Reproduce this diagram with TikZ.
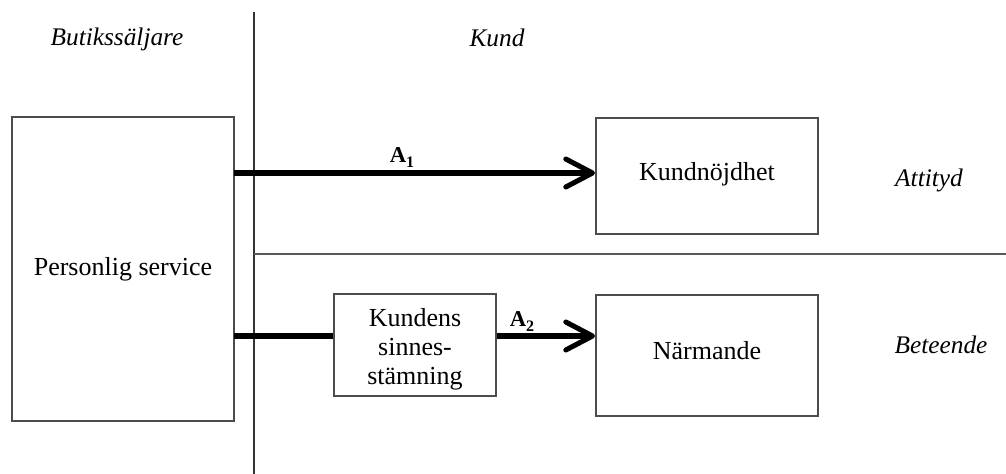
\documentclass[tikz,border=0pt]{standalone}
\usepackage{fontspec}
\setmainfont{Liberation Serif}
\usetikzlibrary{arrows.meta}
\tikzset{
  box/.style={draw=black!70, line width=1.5pt, fill=white, inner sep=0pt, align=center,
    font=\fontsize{19.5}{21.5}\selectfont},
  head/.style={font=\fontsize{19}{21}\selectfont\itshape},
  rule/.style={draw=black!80, line width=1.5pt},
  flow/.style={line width=3.8pt, -{Straight Barb[length=20pt,width=21pt,round]}},
  plain/.style={line width=3.8pt},
  alab/.style={font=\fontsize{17}{19}\selectfont\bfseries}
}
\newcommand{\sublab}[2]{#1\raisebox{-0.22em}{\fontsize{12}{12}\selectfont #2}}
\begin{document}
\begin{tikzpicture}[x=0.75pt,y=-0.75pt]
\useasboundingbox (0,0) rectangle (1006,474);
% separators
\coordinate (vtop) at (254,12);
\coordinate (vbot) at (254,474);
\coordinate (hl) at (254,254);
\coordinate (hr) at (1006,254);
\draw[rule] (vtop) -- (vbot);
\draw[rule, draw=black!65] (hl) -- (hr);
% headings
\node[head] (butik) at (117,39) {Butikssäljare};
\node[head] (kund) at (497,38) {Kund};
\node[head] (att) at (929,180) {Attityd};
\node[head] (bet) at (941,345) {Beteende};
% boxes
\node[box, minimum width=166.5pt, minimum height=228pt] (ps) at (123,269) {Personlig service};
\node[box, minimum width=166.5pt, minimum height=87pt] (kn) at (707,176) {\raisebox{0.35em}{Kundnöjdhet}};
\node[box, minimum width=166.5pt, minimum height=90.75pt] (nm) at (707,355) {\raisebox{0.35em}{Närmande}};
\node[box, minimum width=121.5pt, minimum height=76.5pt] (ks) at (415,345) {\raisebox{-3.5pt}[\height][\depth]{\parbox{110pt}{\centering\fontsize{19.5}{21.8}\selectfont Kundens\\sinnes-\\stämning}}};
% arrows
\coordinate (a1s) at (234,173);
\coordinate (a2s) at (234,336);
\draw[flow] (a1s) -- (kn.west |- a1s);
\draw[plain] (a2s) -- (ks.west |- a2s);
\coordinate (a2m) at (ks.east |- a2s);
\draw[flow] (a2m) -- (nm.west |- a2s);
\node[alab] (l1) at (402,158) {\sublab{A}{1}};
\node[alab] (l2) at (522,322) {\sublab{A}{2}};
\end{tikzpicture}
\end{document}
